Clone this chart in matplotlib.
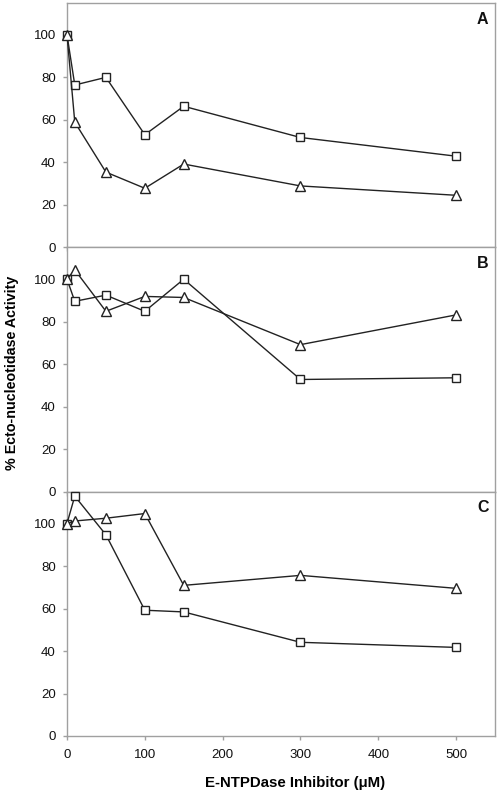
import numpy as np
import matplotlib
matplotlib.use("Agg")
import matplotlib.pyplot as plt

plt.rcParams['font.family'] = ['Liberation Sans', 'DejaVu Sans']

conc = [0, 10, 50, 100, 150, 300, 500]

# panel A
a_sq = [100, 76.4, 80, 53, 66.4, 51.7, 42.9]
a_tri = [100, 58.9, 35.4, 27.8, 39.2, 28.9, 24.5]
# panel B
b_sq = [100, 89.6, 92.5, 84.9, 100, 52.8, 53.6]
b_tri = [100, 104.4, 84.9, 91.9, 91.4, 69.2, 83.2]
# panel C
c_sq = [100, 112.9, 94.7, 59.2, 58.4, 44.1, 41.7]
c_tri = [100, 101.2, 102.5, 104.7, 70.9, 75.6, 69.5]

panels = ['A', 'B', 'C']
sq_data = [a_sq, b_sq, c_sq]
tri_data = [a_tri, b_tri, c_tri]

fig = plt.figure(figsize=(4.98, 7.93), dpi=100)
left, right = 67 / 498, 495 / 498
top, bottom = 1 - 3 / 793, 1 - 736 / 793
h = (top - bottom) / 3

spine_col = '#a0a0a0'
for i, name in enumerate(panels):
    ax = fig.add_axes([left, top - (i + 1) * h, right - left, h])
    ax.plot(conc, sq_data[i], color='#222222', lw=1.0, marker='s', ms=6,
            mfc='white', mec='#222222', mew=1.0, clip_on=False, zorder=3)
    ax.plot(conc, tri_data[i], color='#222222', lw=1.0, marker='^', ms=6.5,
            mfc='white', mec='#222222', mew=1.0, clip_on=False, zorder=3)
    ax.set_xlim(0, 550)
    ax.set_ylim(0, 115)
    ax.set_yticks(range(0, 101, 20))
    ax.set_xticks(range(0, 501, 100))
    for s in ax.spines.values():
        s.set_color(spine_col)
        s.set_linewidth(1.0)
    ax.tick_params(axis='both', colors=spine_col, direction='out', length=3,
                   width=1, labelcolor='#111111', labelsize=9.5)
    ax.tick_params(axis='y', pad=5)
    ax.tick_params(axis='x', pad=6)
    if i < 2:
        ax.tick_params(axis='x', labelbottom=False)
    ax.text(0.985, 0.965, name, transform=ax.transAxes, ha='right', va='top',
            fontsize=11.5, fontweight='bold', color='#111111')

fig.text(295 / 498, 1 - 783 / 793, 'E-NTPDase Inhibitor (\u03bcM)',
         ha='center', va='center', fontsize=10.8, fontweight='bold')
fig.text(12 / 498, 1 - 373 / 793, '% Ecto-nucleotidase Activity', rotation=90,
         ha='center', va='center', fontsize=10.3, fontweight='bold')

fig.savefig('out.png', dpi=100)
